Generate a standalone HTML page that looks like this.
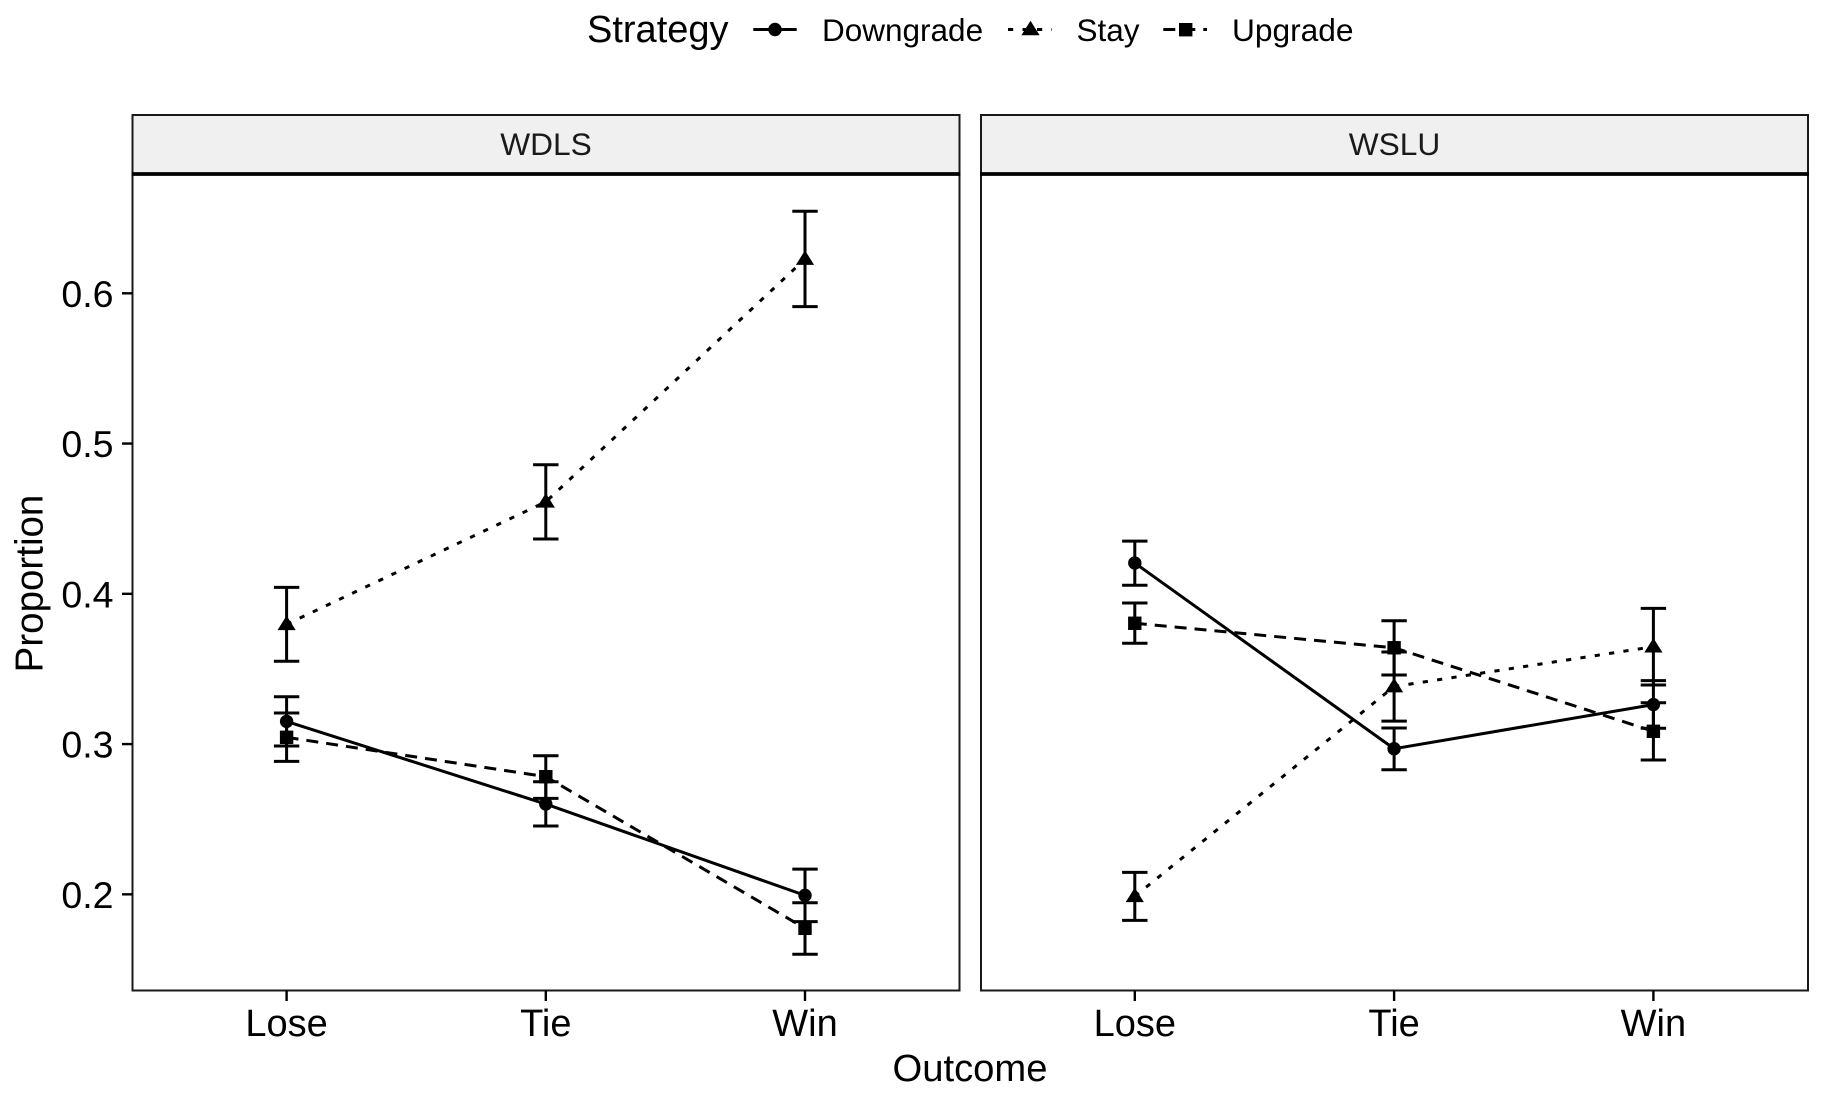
<!DOCTYPE html>
<html lang="en">
<head>
<meta charset="utf-8">
<title>Proportion by outcome and strategy</title>
<style>
  html, body { margin: 0; padding: 0; background: #fff; }
  svg { display: block; font-family: "Liberation Sans", Arial, sans-serif; filter: blur(0.35px); }
</style>
</head>
<body>
<svg id="chart" xmlns="http://www.w3.org/2000/svg" width="1822" height="1097" viewBox="0 0 1822 1097">
  <rect x="0" y="0" width="1822" height="1097" fill="#ffffff"/>

  <g>
    <text x="587" y="42" font-size="38" fill="#000">Strategy</text>
    <g>
      <line x1="753.3" x2="796.7" y1="29.5" y2="29.5" stroke="#000" stroke-width="3"/>
      <circle cx="775" cy="29.5" r="6.7" fill="#000"/>
      <text x="822" y="41" font-size="31.5" fill="#000">Downgrade</text>
    </g>
    <g>
      <line x1="1008" x2="1052" y1="29.5" y2="29.5" stroke="#000" stroke-width="3" stroke-dasharray="5.2 9.3"/>
      <polygon points="1030.5,20.8 1039.6,35.3 1021.4,35.3" fill="#000"/>
      <text x="1076.5" y="41" font-size="31.5" fill="#000">Stay</text>
    </g>
    <g>
      <line x1="1163.3" x2="1207" y1="29.5" y2="29.5" stroke="#000" stroke-width="3" stroke-dasharray="12 8"/>
      <rect x="1179" y="23" width="13.4" height="13.4" fill="#000"/>
      <text x="1232" y="41" font-size="31.7" fill="#000">Upgrade</text>
    </g>
  </g>

  <g id="panels"></g>

  <text x="970" y="1081" font-size="38.2" text-anchor="middle" fill="#000">Outcome</text>
  <text transform="translate(42.5,583.5) rotate(-90)" font-size="38.5" text-anchor="middle" fill="#000">Proportion</text>
</svg>

<script>
// ---- chart data ----
const categories = ["Lose", "Tie", "Win"];
const yTickValues = [0.2, 0.3, 0.4, 0.5, 0.6];
const yTickLabels = ["0.2", "0.3", "0.4", "0.5", "0.6"];

const wdlsDowngrade = [0.3151, 0.2601, 0.1993];
const wdlsDowngradeLow = [0.2987, 0.2455, 0.1818];
const wdlsDowngradeHigh = [0.3315, 0.2749, 0.2168];

const wdlsStay = [0.3797, 0.4612, 0.6228];
const wdlsStayLow = [0.3551, 0.4365, 0.5911];
const wdlsStayHigh = [0.4043, 0.4859, 0.6546];

const wdlsUpgrade = [0.3045, 0.2783, 0.1774];
const wdlsUpgradeLow = [0.2885, 0.2639, 0.1601];
const wdlsUpgradeHigh = [0.3207, 0.2922, 0.1944];

const wsluDowngrade = [0.4205, 0.2969, 0.3263];
const wsluDowngradeLow = [0.4057, 0.2829, 0.3105];
const wsluDowngradeHigh = [0.4351, 0.3107, 0.3422];

const wsluStay = [0.1987, 0.3383, 0.3648];
const wsluStayLow = [0.1827, 0.3153, 0.3393];
const wsluStayHigh = [0.2146, 0.3613, 0.3903];

const wsluUpgrade = [0.3804, 0.3641, 0.3085];
const wsluUpgradeLow = [0.3671, 0.3460, 0.2894];
const wsluUpgradeHigh = [0.3939, 0.3821, 0.3275];

// ---- layout ----
const NS = "http://www.w3.org/2000/svg";
const panelsRoot = document.getElementById("panels");
const plotTop = 174, plotBottom = 990.5, stripTop = 115;
const yDomainLow = 0.136, yDomainHigh = 0.6794;
const capHalf = 12.7, lineW = 3;

function yScale(v) {
  return plotBottom - (v - yDomainLow) / (yDomainHigh - yDomainLow) * (plotBottom - plotTop);
}
function makeXScale(firstCenter, lastCenter) {
  return function (i) {
    return firstCenter + i * (lastCenter - firstCenter) / (categories.length - 1);
  };
}
function svgEl(tag, attrs, parent) {
  const el = document.createElementNS(NS, tag);
  for (const k in attrs) el.setAttribute(k, attrs[k]);
  parent.appendChild(el);
  return el;
}

const panelDefs = [
  { key: "wdls", title: "WDLS", left: 132.5, right: 959.5, x: makeXScale(286.6, 805), showY: true,
    series: [
      { key: "stay", dash: "5.2 9.3", shape: "triangle", v: wdlsStay, lo: wdlsStayLow, hi: wdlsStayHigh },
      { key: "upgrade", dash: "12 8", shape: "square", v: wdlsUpgrade, lo: wdlsUpgradeLow, hi: wdlsUpgradeHigh },
      { key: "downgrade", dash: "", shape: "circle", v: wdlsDowngrade, lo: wdlsDowngradeLow, hi: wdlsDowngradeHigh }
    ] },
  { key: "wslu", title: "WSLU", left: 981, right: 1808, x: makeXScale(1134.8, 1653.4), showY: false,
    series: [
      { key: "stay", dash: "5.2 9.3", shape: "triangle", v: wsluStay, lo: wsluStayLow, hi: wsluStayHigh },
      { key: "upgrade", dash: "12 8", shape: "square", v: wsluUpgrade, lo: wsluUpgradeLow, hi: wsluUpgradeHigh },
      { key: "downgrade", dash: "", shape: "circle", v: wsluDowngrade, lo: wsluDowngradeLow, hi: wsluDowngradeHigh }
    ] }
];

panelDefs.forEach(function (p) {
  const g = svgEl("g", {}, panelsRoot);
  
  

  const strip = svgEl("rect", { x: p.left, y: stripTop, width: p.right - p.left, height: plotTop - stripTop, fill: "#f0f0f0", stroke: "#1a1a1a", "stroke-width": 2 }, g);
  
  

  const stripLabel = svgEl("text", { x: (p.left + p.right) / 2, y: 155, "font-size": 31.7, "text-anchor": "middle", fill: "#1a1a1a" }, g);
  stripLabel.textContent = p.title;
  
  

  const border = svgEl("rect", { x: p.left, y: plotTop, width: p.right - p.left, height: plotBottom - plotTop, fill: "#ffffff", stroke: "#1a1a1a", "stroke-width": 2 }, g);
  
  

  const stripLine = svgEl("line", { x1: p.left - 1, x2: p.right + 1, y1: plotTop, y2: plotTop, stroke: "#000", "stroke-width": 3.8 }, g);
  
  

  if (p.showY) {
    yTickValues.forEach(function (t, i) {
      const y = yScale(t);
      const tick = svgEl("line", { x1: p.left - 10.5, x2: p.left, y1: y, y2: y, stroke: "#000", "stroke-width": 2.4 }, g);
      
      
      const lab = svgEl("text", { x: 113.5, y: y + 13.6, "font-size": 37.5, "text-anchor": "end", fill: "#000" }, g);
      lab.textContent = yTickLabels[i];
      
      
    });
  }

  categories.forEach(function (c, i) {
    const x = p.x(i);
    const tick = svgEl("line", { x1: x, x2: x, y1: plotBottom, y2: plotBottom + 10.5, stroke: "#000", "stroke-width": 2.4 }, g);
    
    
    const lab = svgEl("text", { x: x, y: 1036, "font-size": 38, "text-anchor": "middle", fill: "#000" }, g);
    lab.textContent = c;
    
    
  });

  p.series.forEach(function (s) {
    const sg = svgEl("g", {}, g);
    
    

    s.v.forEach(function (v, i) {
      const x = p.x(i), yH = yScale(s.hi[i]), yL = yScale(s.lo[i]);
      const d = "M" + (x - capHalf) + " " + yH + "H" + (x + capHalf) + "M" + x + " " + yH + "V" + yL + "M" + (x - capHalf) + " " + yL + "H" + (x + capHalf);
      const eb = svgEl("path", { d: d, fill: "none", stroke: "#000", "stroke-width": lineW }, sg);
      
      
    });

    const pts = s.v.map(function (v, i) { return p.x(i) + "," + yScale(v); }).join(" ");
    const attrs = { points: pts, fill: "none", stroke: "#000", "stroke-width": lineW, "stroke-linejoin": "round" };
    if (s.dash) attrs["stroke-dasharray"] = s.dash;
    const line = svgEl("polyline", attrs, sg);
    
    

    s.v.forEach(function (v, i) {
      const x = p.x(i), y = yScale(v);
      let m;
      if (s.shape === "circle") {
        m = svgEl("circle", { cx: x, cy: y, r: 6.7, fill: "#000" }, sg);
      } else if (s.shape === "square") {
        m = svgEl("rect", { x: x - 6.7, y: y - 6.7, width: 13.4, height: 13.4, fill: "#000" }, sg);
      } else {
        m = svgEl("polygon", { points: x + "," + (y - 8.7) + " " + (x + 9.1) + "," + (y + 5.8) + " " + (x - 9.1) + "," + (y + 5.8), fill: "#000" }, sg);
      }
      
      
    });
  });
});
</script>
</body>
</html>
